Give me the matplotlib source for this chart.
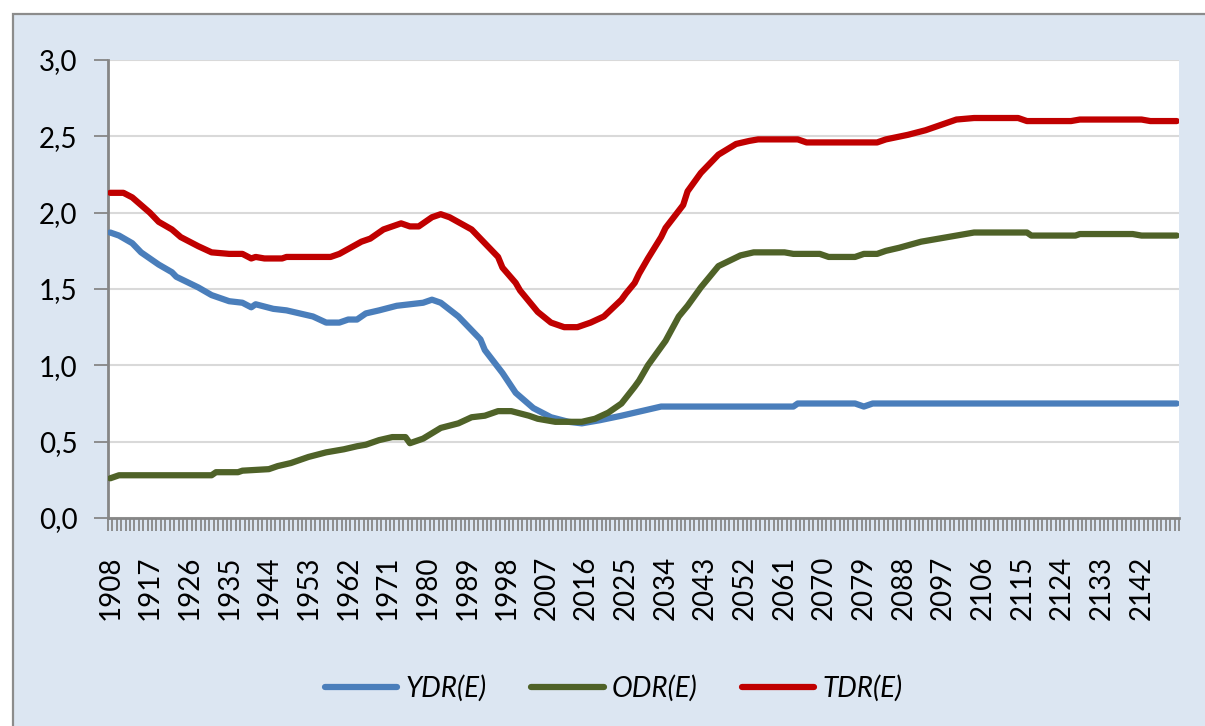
import matplotlib
matplotlib.use("Agg")
import matplotlib.pyplot as plt
import matplotlib.patches as mpatches
from matplotlib.ticker import FixedLocator, FuncFormatter

plt.rcParams['font.family'] = ['Lato', 'DejaVu Sans']

# values
ydr_years = [1908, 1910, 1913, 1915, 1919, 1922, 1923, 1928, 1931, 1935, 1938, 1940,
             1941, 1945, 1948, 1951, 1954, 1957, 1960, 1962, 1964, 1966, 1969, 1973,
             1976, 1979, 1981, 1983, 1987, 1992, 1993, 1997, 2000, 2004, 2008, 2012,
             2015, 2019, 2024, 2027, 2030, 2033, 2063, 2064, 2077, 2079, 2081, 2150]
ydr_vals = [1.87, 1.85, 1.80, 1.74, 1.66, 1.61, 1.58, 1.51, 1.46, 1.42, 1.41, 1.38,
            1.40, 1.37, 1.36, 1.34, 1.32, 1.28, 1.28, 1.30, 1.30, 1.34, 1.36, 1.39,
            1.40, 1.41, 1.43, 1.41, 1.32, 1.17, 1.10, 0.95, 0.82, 0.72, 0.66, 0.63,
            0.62, 0.64, 0.67, 0.69, 0.71, 0.73, 0.73, 0.75, 0.75, 0.73, 0.75, 0.75]

odr_years = [1908, 1910, 1931, 1932, 1937, 1938, 1944, 1946, 1949, 1953, 1957, 1961,
             1964, 1966, 1969, 1972, 1975, 1976, 1979, 1983, 1987, 1990, 1993, 1996,
             1999, 2003, 2005, 2009, 2015, 2018, 2021, 2024, 2027, 2028, 2030, 2034,
             2037, 2039, 2042, 2046, 2051, 2054, 2061, 2063, 2069, 2071, 2077, 2079,
             2082, 2084, 2087, 2092, 2096, 2100, 2104, 2116, 2117, 2127, 2128, 2140,
             2142, 2150]
odr_vals = [0.26, 0.28, 0.28, 0.30, 0.30, 0.31, 0.32, 0.34, 0.36, 0.40, 0.43, 0.45,
            0.47, 0.48, 0.51, 0.53, 0.53, 0.49, 0.52, 0.59, 0.62, 0.66, 0.67, 0.70,
            0.70, 0.67, 0.65, 0.63, 0.63, 0.65, 0.69, 0.75, 0.86, 0.90, 1.00, 1.16,
            1.32, 1.39, 1.51, 1.65, 1.72, 1.74, 1.74, 1.73, 1.73, 1.71, 1.71, 1.73,
            1.73, 1.75, 1.77, 1.81, 1.83, 1.85, 1.87, 1.87, 1.85, 1.85, 1.86, 1.86,
            1.85, 1.85]

tdr_years = [1908, 1911, 1913, 1917, 1919, 1922, 1924, 1928, 1931, 1935, 1938, 1940,
             1941, 1943, 1947, 1948, 1958, 1960, 1965, 1967, 1970, 1974, 1976, 1978,
             1981, 1983, 1985, 1990, 1993, 1996, 1997, 2000, 2001, 2005, 2008, 2011,
             2014, 2017, 2020, 2024, 2025, 2027, 2028, 2030, 2033, 2034, 2038, 2039,
             2042, 2046, 2050, 2053, 2055, 2064, 2066, 2082, 2084, 2089, 2093, 2097,
             2100, 2104, 2114, 2116, 2126, 2128, 2142, 2144, 2150]
tdr_vals = [2.13, 2.13, 2.10, 2.00, 1.94, 1.89, 1.84, 1.78, 1.74, 1.73, 1.73, 1.70,
            1.71, 1.70, 1.70, 1.71, 1.71, 1.73, 1.81, 1.83, 1.89, 1.93, 1.91, 1.91,
            1.97, 1.99, 1.97, 1.89, 1.80, 1.71, 1.64, 1.54, 1.49, 1.35, 1.28, 1.25,
            1.25, 1.28, 1.32, 1.43, 1.47, 1.54, 1.60, 1.70, 1.84, 1.90, 2.05, 2.14,
            2.26, 2.38, 2.45, 2.47, 2.48, 2.48, 2.46, 2.46, 2.48, 2.51, 2.54, 2.58,
            2.61, 2.62, 2.62, 2.60, 2.60, 2.61, 2.61, 2.60, 2.60]

labels = ["YDR(E)", "ODR(E)", "TDR(E)"]
colors = ["#4A7EBB", "#4F6228", "#C00000"]
first_year, last_year = 1908, 2150

fig = plt.figure(figsize=(12.05, 7.26), dpi=100)
fig.patch.set_facecolor("white")
bg = mpatches.Rectangle((12.5 / 1205, -0.05), 1.1, 1.05 - 13.5 / 726,
                        transform=fig.transFigure, facecolor="#DCE6F2",
                        edgecolor="#8C8C8C", linewidth=1.6, zorder=-10)
fig.patches.append(bg)

ax = fig.add_axes([108 / 1205, 1 - 518 / 726, (1179 - 108) / 1205, (518 - 60) / 726])
ax.set_facecolor("white")

series = [(ydr_years, ydr_vals), (odr_years, odr_vals), (tdr_years, tdr_vals)]
for (xs, ys), lab, col in zip(series, labels, colors):
    ax.plot(xs, ys, color=col, linewidth=4.5, label=lab,
            solid_joinstyle="round", solid_capstyle="round", zorder=3)

ax.set_xlim(first_year - 0.5, last_year + 0.5)
ax.set_ylim(0, 3.0)

ax.set_yticks([0, 0.5, 1.0, 1.5, 2.0, 2.5, 3.0])
ax.yaxis.set_major_formatter(FuncFormatter(lambda v, p: f"{v:.1f}".replace(".", ",")))
ax.yaxis.grid(True, color="#D9D9D9", linewidth=1.5)
ax.set_axisbelow(True)

label_years = list(range(first_year, last_year, 9))
ax.set_xticks(label_years)
ax.set_xticklabels([str(y) for y in label_years], rotation=90)
ax.xaxis.set_minor_locator(FixedLocator([y - 0.5 for y in range(first_year, last_year + 2)]))
ax.tick_params(axis="x", which="major", length=0, pad=27, labelsize=20)
ax.tick_params(axis="x", which="minor", length=9, width=1.3, color="#868686", direction="out")
ax.tick_params(axis="y", length=10, width=1.3, color="#868686", pad=12, labelsize=20)

for side in ["top", "right"]:
    ax.spines[side].set_visible(False)
for side in ["left", "bottom"]:
    ax.spines[side].set_color("#868686")
    ax.spines[side].set_linewidth(2)

fig.legend(loc="center", bbox_to_anchor=(614 / 1205, 1 - 688 / 726), ncol=3,
           frameon=False, prop={"size": 20, "style": "italic"},
           handlelength=2.6, handletextpad=0.3, columnspacing=1.6)

fig.savefig("out.png", dpi=100)
